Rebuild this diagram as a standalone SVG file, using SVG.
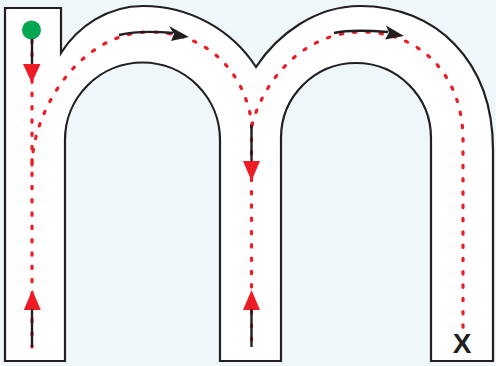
<svg xmlns="http://www.w3.org/2000/svg" width="496" height="366" viewBox="0 0 496 366">
  <style>
    .outline { fill: #ffffff; stroke: #231f20; stroke-width: 2.2; stroke-linejoin: miter; }
    .dots { fill: none; stroke: #ed1c24; stroke-width: 3.2; stroke-linecap: round; stroke-dasharray: 2.4 10.9; }
    .blk { fill: none; stroke: #231f20; stroke-width: 2.4; }
    .redhead { fill: #ed1c24; }
    .blkhead { fill: #231f20; }
  </style>
  <rect x="0" y="0" width="496" height="366" fill="#eff7fb"/>
  <g id="letter-m">
    <path class="outline" d="M5,8 H61 V53 C78,26 108,6 143,6 A134.5,134.5 0 0 1 256,67 C277,35 315,6 360,6 C435,6 493,60 493,150 V361 H431 V138 A75,75 0 0 0 281,138 V361 H220 V140 A77.5,77.5 0 0 0 65,140 V361 H5 Z"/>
  </g>
  <g id="path-dots">
    <path class="dots" d="M32,40 V347"/>
    <path class="dots" d="M32,165 C33,110 80,32 150,32 C205,32 245,70 252,125"/>
    <path class="dots" d="M252,125 C262,85 300,32 362,32 C420,32 463,75 463,140 V328"/>
    <path class="dots" d="M251.5,125 V347"/>
  </g>
  <g id="start">
    <circle cx="31.5" cy="30" r="9.5" fill="#00a651"/>
  </g>
  <g id="arrows">
    <line class="blk" x1="32" y1="39" x2="32" y2="66"/>
    <polygon class="redhead" points="23,64 40.5,64 31.8,83"/>
    <polygon class="redhead" points="32.3,290 23.8,310 40.8,310"/>
    <line class="blk" x1="32" y1="309" x2="32" y2="347"/>
    <line class="blk" x1="251.5" y1="125" x2="251.5" y2="163"/>
    <polygon class="redhead" points="243,161 260,161 251.5,181"/>
    <polygon class="redhead" points="251.5,290 243,310 260,310"/>
    <line class="blk" x1="251.5" y1="309" x2="251.5" y2="347"/>
    <path class="blk" d="M119,35 Q140,30 173,33"/>
    <polygon class="blkhead" points="169,26 189,37 171,41 174,34"/>
    <path class="blk" d="M334,33 Q352,29 388,32"/>
    <polygon class="blkhead" points="386,25.5 404,36 385,39.5 389,32.5"/>
  </g>
  <g id="end">
    <text x="462" y="353" font-family="Liberation Sans, Arial, sans-serif" font-size="28" font-weight="bold" text-anchor="middle" fill="#231f20">X</text>
  </g>
</svg>
